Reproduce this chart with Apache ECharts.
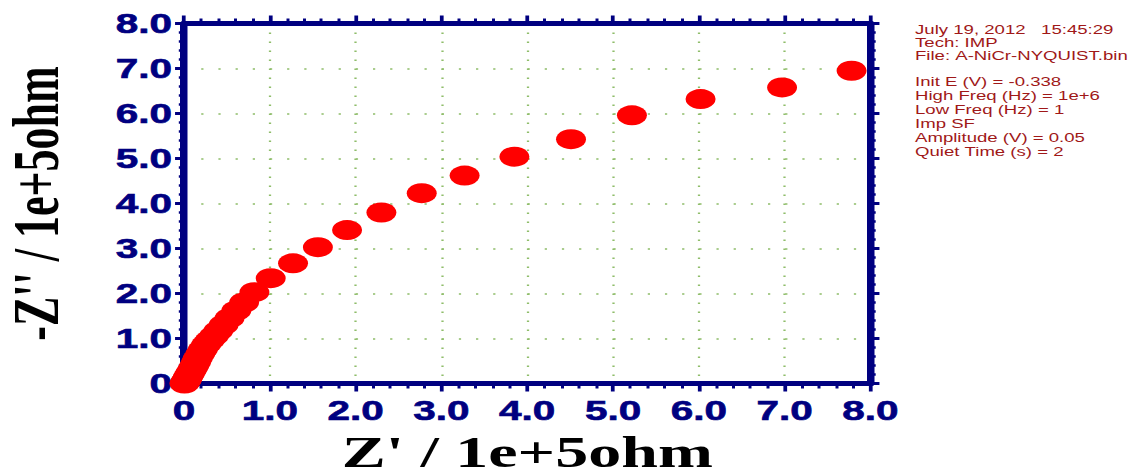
<!DOCTYPE html>
<html><head><meta charset="utf-8">
<script src="https://cdn.jsdelivr.net/npm/echarts@6/dist/echarts.min.js"></script>
<style>
html,body{margin:0;padding:0;overflow:hidden;background:#fff;width:1130px;height:476px}
#c{width:753.333px;height:476px;transform:scaleX(1.5);transform-origin:0 0;}
</style></head><body><div id="c"></div>
<script>
// Z' (1e+5 ohm)
const zReal = [7.78, 6.97, 6.02, 5.22, 4.51, 3.85, 3.27, 2.77, 2.30, 1.90, 1.56, 1.27, 1.01, 0.82, 0.70, 0.61, 0.53, 0.46, 0.40, 0.35, 0.30, 0.26, 0.22, 0.19, 0.16, 0.14, 0.12, 0.10, 0.08, 0.065, 0.05, 0.04, 0.03, 0.02, 0.01, 0.005];
// -Z'' (1e+5 ohm)
const zImag = [6.95, 6.58, 6.32, 5.96, 5.43, 5.04, 4.62, 4.23, 3.80, 3.41, 3.03, 2.67, 2.34, 2.03, 1.80, 1.62, 1.45, 1.30, 1.17, 1.06, 0.96, 0.87, 0.76, 0.66, 0.56, 0.48, 0.40, 0.33, 0.26, 0.21, 0.16, 0.12, 0.08, 0.05, 0.02, 0.0];
const xTickLabels = ['0', '1.0', '2.0', '3.0', '4.0', '5.0', '6.0', '7.0', '8.0'];
const yTickLabels = ['0', '1.0', '2.0', '3.0', '4.0', '5.0', '6.0', '7.0', '8.0'];
const xTitle = "Z' / 1e+5ohm";
const yTitle = "-Z'' / 1e+5ohm";
const infoHeader = ['July 19, 2012   15:45:29', 'Tech: IMP', 'File: A-NiCr-NYQUIST.bin'];
const infoParams = ['Init E (V) = -0.338', 'High Freq (Hz) = 1e+6', 'Low Freq (Hz) = 1', 'Imp SF', 'Amplitude (V) = 0.05', 'Quiet Time (s) = 2'];

const NAVY = '#000080';
const GRIDC = '#8fbd6a';
const points = zReal.map((x, i) => [x, zImag[i]]);

function makeAxis(kind, pos, labels, show) {
  const isX = kind === 'x';
  return {
    type: 'value', position: pos, min: 0, max: 8, interval: 1,
    axisLine: { show: true, onZero: false, lineStyle: { color: NAVY, width: 5 } },
    axisTick: { show: true, inside: false, length: isX ? 8 : 6, lineStyle: { color: NAVY, width: isX ? 2.5 : 3 } },
    minorTick: { show: true, splitNumber: 5, length: isX ? 5 : 3.5, lineStyle: { color: NAVY, width: isX ? 2 : 2.5 } },
    axisLabel: show ? {
      show: true, color: NAVY, fontFamily: 'Liberation Sans, Arial, sans-serif', fontWeight: 'bold', fontSize: 27,
      margin: isX ? 14 : 8, showMinLabel: true, showMaxLabel: true,
      textBorderColor: NAVY, textBorderWidth: 0.6,
      formatter: v => labels[Math.round(v)]
    } : { show: false },
    splitLine: show ? {
      show: true,
      lineStyle: { color: GRIDC, width: 1.5, type: isX ? [1.5, 7.5] : [1.5, 9.95] }
    } : { show: false },
    minorSplitLine: { show: false }
  };
}

const chart = echarts.init(document.getElementById('c'), null, { renderer: 'svg' });
const xb = makeAxis('x', 'bottom', xTickLabels, true);
xb.name = xTitle; xb.nameLocation = 'middle'; xb.nameGap = 49;
xb.nameTextStyle = { fontFamily: 'Liberation Serif, Times New Roman, serif', fontWeight: 'bold', fontSize: 44, lineHeight: 40, color: '#000' };
const yl = makeAxis('y', 'left', yTickLabels, true);
yl.name = yTitle; yl.nameLocation = 'middle'; yl.nameGap = 77;
yl.nameTextStyle = { fontFamily: 'Liberation Serif, Times New Roman, serif', fontWeight: 'bold', fontSize: 44, color: '#000' };

const graphics = [];
infoHeader.forEach((t, i) => graphics.push({
  type: 'text', left: 610, top: 24 + i * 12.9,
  style: { text: t.replace(/ /g, '\u00a0'), fill: '#a01818', font: '12.4px "Liberation Sans", Arial, sans-serif' }
}));
infoParams.forEach((t, i) => graphics.push({
  type: 'text', left: 610, top: 75.5 + i * 14,
  style: { text: t.replace(/ /g, '\u00a0'), fill: '#a01818', font: '12.4px "Liberation Sans", Arial, sans-serif' }
}));

chart.setOption({
  animation: false,
  grid: { left: 122.7, right: 172.7, top: 23.5, bottom: 92.5, containLabel: false, outerBoundsMode: 'none' },
  xAxis: [xb, makeAxis('x', 'top', xTickLabels, false)],
  yAxis: [yl, makeAxis('y', 'right', yTickLabels, false)],
  graphic: graphics,
  series: [{
    type: 'scatter', xAxisIndex: 0, yAxisIndex: 0, data: points,
    symbol: 'circle', symbolSize: 20, clip: false, z: 10,
    itemStyle: { color: '#ff0000', opacity: 1 }
  }]
});
</script></body></html>
